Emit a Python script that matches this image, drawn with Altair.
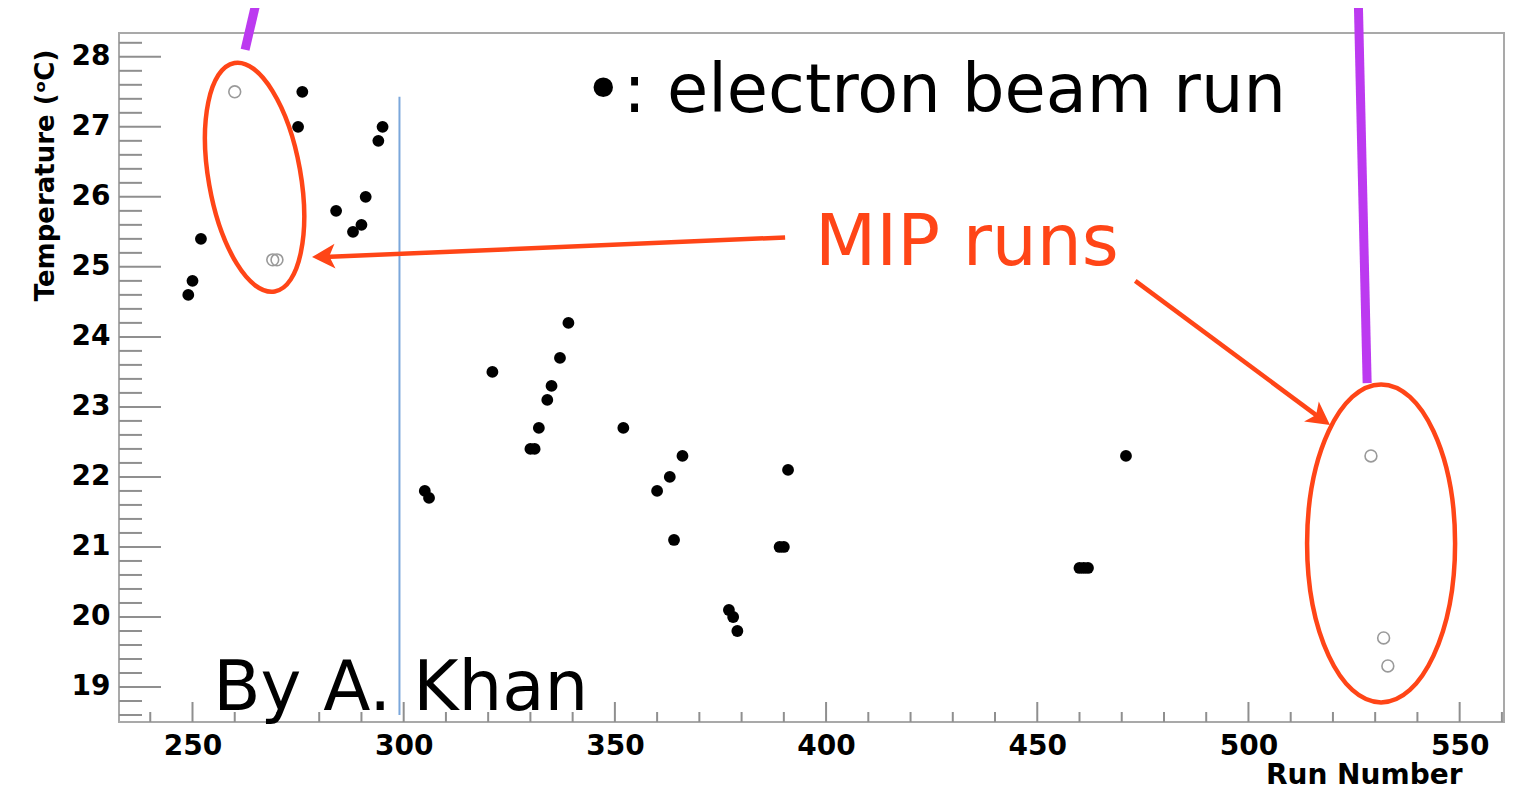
import altair as alt
import pandas as pd

# ---------------- data ----------------
e_runs = [249, 250, 252, 275, 276, 284, 288, 290, 291, 294, 295, 305, 306, 321,
          330, 331, 332, 334, 335, 337, 339, 352, 360, 363, 364, 366, 377, 378,
          379, 389, 390, 391, 460, 461, 462, 471]
e_temps = [24.6, 24.8, 25.4, 27.0, 27.5, 25.8, 25.5, 25.6, 26.0, 26.8, 27.0, 21.8,
           21.7, 23.5, 22.4, 22.4, 22.7, 23.1, 23.3, 23.7, 24.2, 22.7, 21.8, 22.0,
           21.1, 22.3, 20.1, 20.0, 19.8, 21.0, 21.0, 22.1, 20.7, 20.7, 20.7, 22.3]

mip_runs = [260, 269, 270, 529, 532, 533]
mip_temps = [27.5, 25.1, 25.1, 22.3, 19.7, 19.3]

x_major = [250, 300, 350, 400, 450, 500, 550]
x_minor = [v for v in range(240, 561, 10) if v % 50]
y_major = [19, 20, 21, 22, 23, 24, 25, 26, 27, 28]
y_minor = [round(18.6 + 0.2 * i, 1) for i in range(49) if round(18.6 + 0.2 * i, 1) % 1]

# annotations (anchored in data units)
divider_run = [299]
divider_from = [18.6]
divider_to = [27.43]

label_texts = ["\u2022: electron beam run", "MIP runs", "By A. Khan"]
label_runs = [342.6, 397.4, 254.9]
label_temps = [27.21, 25.02, 18.67]

ell_runs = [264.7, 531.4]
ell_temps = [26.28, 21.05]

arrow_tail_runs = [390.3, 473.2]
arrow_tail_temps = [25.42, 24.80]
arrow_end_runs = [281.2, 517.0]
arrow_end_temps = [25.14, 22.84]
arrow_tip_runs = [278.3, 519.3]
arrow_tip_temps = [25.14, 22.74]

purple_x0 = [265.2, 526.0]
purple_y0 = [28.81, 28.81]
purple_x1 = [262.45, 528.1]
purple_y1 = [28.10, 23.34]

# ---------------- styling ----------------
W, H = 1385, 689
FONT = "DejaVu Sans"
RED = "#FF4517"
PURPLE = "#BC3AF0"
BLUE = "#7BA7DB"
TICK = "#8f8f8f"

XS = alt.Scale(domain=[232.6, 560.5], nice=False, zero=False)
YS = alt.Scale(domain=[18.5, 28.34], nice=False, zero=False)

XA = alt.Axis(
    values=x_major, format="d", ticks=False, tickSize=0, domain=False, grid=False,
    labelFont=FONT, labelFontWeight="bold", labelFontSize=28, labelColor="black",
    labelPadding=10, labelFlush=False, labelOverlap=False,
    title="Run Number", titleFont=FONT, titleFontWeight="bold", titleFontSize=28,
    titleColor="black", titleX=1343, titleY=61, titleAlign="right",
    titleBaseline="alphabetic")
YA = alt.Axis(
    values=y_major, format="d", ticks=False, tickSize=0, domain=False, grid=False,
    labelFont=FONT, labelFontWeight="bold", labelFontSize=28, labelColor="black",
    labelPadding=9, labelFlush=False, labelOverlap=False,
    title="Temperature (\u1d52C)", titleFont=FONT, titleFontWeight="bold",
    titleFontSize=26, titleColor="black", titleAngle=270, titleX=-66, titleY=142,
    titleAlign="center", titleBaseline="alphabetic")


def X(f):
    return alt.X(f, scale=XS, axis=XA)


def Y(f):
    return alt.Y(f, scale=YS, axis=YA)


def ellipse_path(r):
    k = 0.5523
    return (f"M0,-1 C{k*r:.4f},-1 {r:.4f},{-k} {r:.4f},0 "
            f"C{r:.4f},{k} {k*r:.4f},1 0,1 "
            f"C{-k*r:.4f},1 {-r:.4f},{k} {-r:.4f},0 "
            f"C{-r:.4f},{-k} {-k*r:.4f},-1 0,-1 Z")


ARROW = "M0,0 L1.08,2 L0,1.5 L-1.08,2 Z"

# ---------------- layers ----------------
ymaj = alt.Chart(pd.DataFrame({"t": y_major})).mark_rule(color=TICK, strokeWidth=2).encode(
    y=Y("t:Q"), x=alt.value(0), x2=alt.value(42))
ymin = alt.Chart(pd.DataFrame({"t": y_minor})).mark_rule(color=TICK, strokeWidth=2).encode(
    y=Y("t:Q"), x=alt.value(0), x2=alt.value(23))
xmaj = alt.Chart(pd.DataFrame({"t": x_major})).mark_rule(color=TICK, strokeWidth=2).encode(
    x=X("t:Q"), y=alt.value(H), y2=alt.value(H - 20))
xmin = alt.Chart(pd.DataFrame({"t": x_minor})).mark_rule(color=TICK, strokeWidth=2).encode(
    x=X("t:Q"), y=alt.value(H), y2=alt.value(H - 10))

divider = alt.Chart(pd.DataFrame({"run": divider_run, "a": divider_from, "b": divider_to})).mark_rule(
    color=BLUE, strokeWidth=2).encode(x=X("run:Q"), y=Y("a:Q"), y2="b:Q")

electron = alt.Chart(pd.DataFrame({"run": e_runs, "temp": e_temps})).mark_circle(
    size=140, color="black", opacity=1).encode(x=X("run:Q"), y=Y("temp:Q"))

mip = alt.Chart(pd.DataFrame({"run": mip_runs, "temp": mip_temps})).mark_point(
    shape="circle", filled=False, color="#9a9a9a", strokeWidth=1.6, size=140, opacity=1).encode(
    x=X("run:Q"), y=Y("temp:Q"))

purple = alt.Chart(pd.DataFrame({"x0": purple_x0, "y0": purple_y0,
                                 "x1": purple_x1, "y1": purple_y1})).mark_rule(
    color=PURPLE, strokeWidth=9, strokeCap="butt").encode(
    x=X("x0:Q"), y=Y("y0:Q"), x2="x1:Q", y2="y1:Q")

ellipses = alt.Chart(pd.DataFrame({
    "run": ell_runs, "temp": ell_temps,
    "path": [ellipse_path(46 / 116), ellipse_path(74 / 159)],
    "size": [232 ** 2, 318 ** 2],
    "angle": [350, 0]})).mark_point(
    filled=False, color=RED, strokeWidth=4.5, opacity=1).encode(
    x=X("run:Q"), y=Y("temp:Q"),
    shape=alt.Shape("path:N", scale=None), size=alt.Size("size:Q", scale=None),
    angle=alt.Angle("angle:Q", scale=None))

shafts = alt.Chart(pd.DataFrame({"x0": arrow_tail_runs, "y0": arrow_tail_temps,
                                 "x1": arrow_end_runs, "y1": arrow_end_temps})).mark_rule(
    color=RED, strokeWidth=4.5, strokeCap="butt").encode(
    x=X("x0:Q"), y=Y("y0:Q"), x2="x1:Q", y2="y1:Q")

heads = alt.Chart(pd.DataFrame({"run": arrow_tip_runs, "temp": arrow_tip_temps,
                                "angle": [267.6, 126.3]})).mark_point(
    shape=ARROW, filled=True, color=RED, size=529, opacity=1, strokeWidth=0).encode(
    x=X("run:Q"), y=Y("temp:Q"), angle=alt.Angle("angle:Q", scale=None))


def label(i, size, color):
    return alt.Chart(pd.DataFrame({"run": [label_runs[i]], "temp": [label_temps[i]],
                                   "txt": [label_texts[i]]})).mark_text(
        align="left", baseline="alphabetic", font=FONT, fontSize=size, color=color).encode(
        x=X("run:Q"), y=Y("temp:Q"), text="txt:N")


chart = alt.layer(
    electron, ymaj, ymin, xmaj, xmin, divider, mip, purple, ellipses, shafts, heads,
    label(0, 67, "black"), label(1, 71, RED), label(2, 69, "black"),
).properties(
    width=W, height=H,
    autosize=alt.AutoSizeParams(type="none"),
    padding={"left": 111, "top": 25, "right": 21, "bottom": 71},
    background="white",
).configure_view(stroke="#a9a9a9", strokeWidth=2)

chart.save("out.html", embed_options={"renderer": "svg", "actions": False})
